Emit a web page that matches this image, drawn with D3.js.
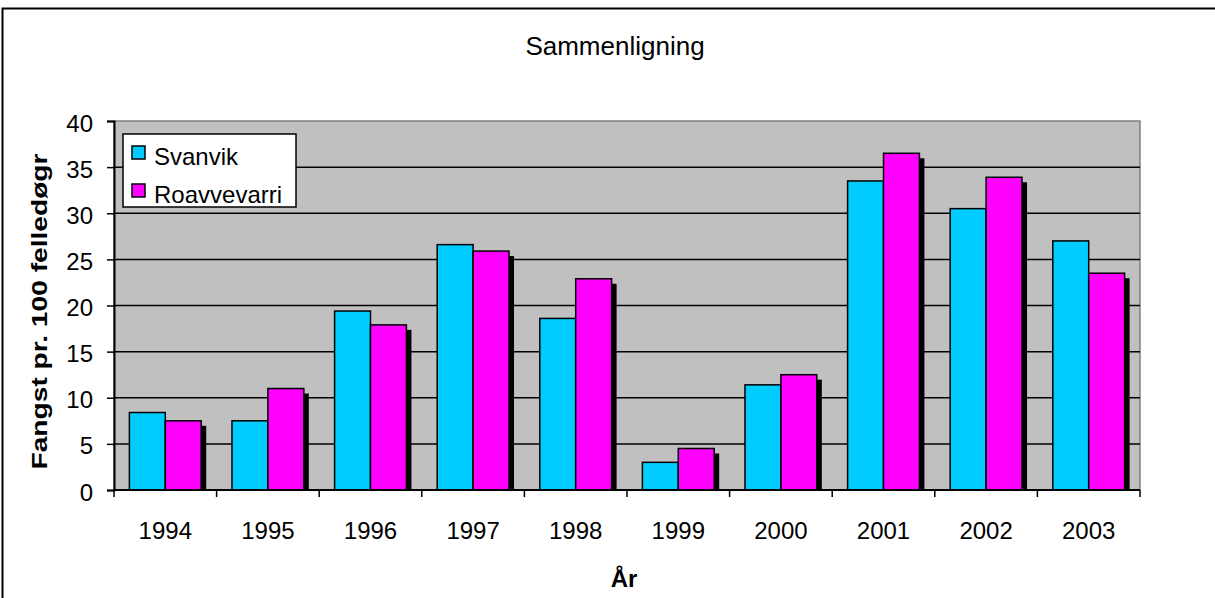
<!DOCTYPE html>
<html>
<head>
<meta charset="utf-8">
<script src="https://cdn.jsdelivr.net/npm/d3@7"></script>
<style>
  body { margin: 0; background: #fff; overflow: hidden; }
  svg { display: block; }
  text { font-family: "Liberation Sans", Arial, sans-serif; fill: #000; }
</style>
</head>
<body>
<div id="chart"></div>
<script>
// data
var years = ["1994", "1995", "1996", "1997", "1998", "1999", "2000", "2001", "2002", "2003"];
var svanvik = [8.4, 7.5, 19.4, 26.6, 18.6, 3.0, 11.4, 33.5, 30.5, 27.0];
var roavvevarri = [7.5, 11.0, 17.9, 25.9, 22.9, 4.5, 12.5, 36.5, 33.9, 23.5];
var seriesNames = ["Svanvik", "Roavvevarri"];
var seriesColors = ["#00ccff", "#ff00ff"];
var yTicks = [0, 5, 10, 15, 20, 25, 30, 35, 40];

var width = 1215, height = 598;
var margin = {left: 114, right: 75, top: 121, bottom: 108};

var svg = d3.select("#chart").append("svg")
    .attr("width", width)
    .attr("height", height);

// outer chart border: only top and left are inside the picture
svg.append("path")
    .attr("d", "M2.5," + height + "V8.5H" + width)
    .attr("fill", "none").attr("stroke", "#000").attr("stroke-width", 2);

var x0 = d3.scaleBand()
    .domain(years)
    .range([margin.left, width - margin.right])
    .paddingInner(0.3)
    .paddingOuter(0.15);

var x1 = d3.scaleBand()
    .domain(seriesNames)
    .range([0, x0.bandwidth()]);

var y = d3.scaleLinear()
    .domain([0, 40])
    .range([height - margin.bottom, margin.top]);

var plotW = width - margin.right - margin.left;

// plot background
svg.append("rect")
    .attr("x", margin.left).attr("y", y(40))
    .attr("width", plotW).attr("height", y(0) - y(40))
    .attr("fill", "#c0c0c0")
    .attr("stroke", "#808080").attr("stroke-width", 1.5);

// gridlines
svg.append("g")
    .selectAll("line")
    .data(yTicks.filter(d => d > 0 && d < 40))
    .enter().append("line")
      .attr("x1", margin.left).attr("x2", width - margin.right)
      .attr("y1", d => y(d)).attr("y2", d => y(d))
      .attr("stroke", "#000").attr("stroke-width", 1.5);

var data = years.map(function (yr, i) {
    return {year: yr, vals: [
        {name: seriesNames[0], v: svanvik[i], c: seriesColors[0]},
        {name: seriesNames[1], v: roavvevarri[i], c: seriesColors[1]}
    ]};
});

var groups = svg.append("g").selectAll("g")
    .data(data)
    .enter().append("g")
      .attr("transform", d => "translate(" + x0(d.year) + ",0)");

// shadow only shows behind second series
groups.append("rect")
    .attr("x", x1(seriesNames[1]) + 5)
    .attr("y", d => y(d.vals[1].v) + 5)
    .attr("width", x1.bandwidth())
    .attr("height", d => y(0) - y(d.vals[1].v) - 5)
    .attr("fill", "#000");

groups.selectAll(".bar")
    .data(d => d.vals)
    .enter().append("rect")
      .attr("class", "bar")
      .attr("x", d => x1(d.name))
      .attr("y", d => y(d.v))
      .attr("width", x1.bandwidth())
      .attr("height", d => y(0) - y(d.v))
      .attr("fill", d => d.c)
      .attr("stroke", "#000")
      .attr("stroke-width", 1.5);

// y axis
var yAxis = svg.append("g")
    .attr("transform", "translate(" + margin.left + ",0)")
    .call(d3.axisLeft(y).tickValues(yTicks).tickSize(7).tickPadding(14));
yAxis.select(".domain").attr("stroke-width", 2);
yAxis.selectAll(".tick line").attr("stroke-width", 1.5);
yAxis.selectAll("text")
    .attr("font-size", 24)
    .attr("dy", "0.42em")
    .attr("font-family", "Liberation Sans, Arial");

// x axis, ticks between the categories
var xEdges = years.map(d => x0(d) - x0.step() * x0.paddingInner() / 2).concat([width - margin.right]);
var xAxis = svg.append("g")
    .attr("transform", "translate(0," + y(0) + ")");
xAxis.append("line")
    .attr("x1", margin.left).attr("x2", width - margin.right)
    .attr("stroke", "#000").attr("stroke-width", 2);
xAxis.selectAll(".tk")
    .data(xEdges)
    .enter().append("line")
      .attr("class", "tk")
      .attr("x1", d => d).attr("x2", d => d)
      .attr("y1", 0).attr("y2", 7)
      .attr("stroke", "#000").attr("stroke-width", 1.5);
xAxis.selectAll(".lbl")
    .data(years)
    .enter().append("text")
      .attr("class", "lbl")
      .attr("x", d => x0(d) + x0.bandwidth() / 2)
      .attr("y", 48.5)
      .attr("text-anchor", "middle")
      .attr("font-size", 24)
      .text(d => d);

// titles
svg.append("text")
    .attr("x", 615)
    .attr("y", 55)
    .attr("text-anchor", "middle")
    .attr("font-size", 26)
    .text("Sammenligning");

svg.append("text")
    .attr("x", 624)
    .attr("y", 587)
    .attr("text-anchor", "middle")
    .attr("font-size", 24)
    .attr("font-weight", "bold")
    .text("År");

svg.append("text")
    .attr("transform", "translate(47," + (y(20) + 6) + ") rotate(-90)")
    .attr("text-anchor", "middle")
    .attr("font-size", 22)
    .attr("font-weight", "bold")
    .attr("textLength", 316)
    .attr("lengthAdjust", "spacingAndGlyphs")
    .text("Fangst pr. 100 felledøgr");

// legend
var legend = svg.append("g").attr("transform", "translate(123,134)");
legend.append("rect")
    .attr("width", 173).attr("height", 73)
    .attr("fill", "#fff").attr("stroke", "#000").attr("stroke-width", 1.5);
var li = legend.selectAll(".li")
    .data(seriesNames)
    .enter().append("g")
      .attr("class", "li")
      .attr("transform", (d, i) => "translate(9," + (12 + i * 38) + ")");
li.append("rect")
    .attr("width", 13).attr("height", 13)
    .attr("fill", (d, i) => seriesColors[i])
    .attr("stroke", "#000").attr("stroke-width", 1.5);
li.append("text")
    .attr("x", 22).attr("y", 19)
    .attr("font-size", 24)
    .text(d => d);
</script>
</body>
</html>
